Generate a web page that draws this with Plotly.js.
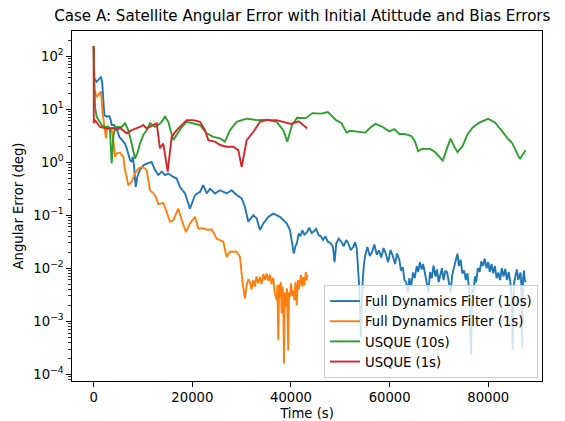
<!DOCTYPE html>
<html>
<head>
<meta charset="utf-8">
<script src="https://cdn.plot.ly/plotly-3.0.1.min.js"></script>
<style>html,body{margin:0;padding:0;background:#fff;}#chart{width:565px;height:421px;}</style>
</head>
<body>
<div id="chart"></div>
<script>
// Full Dynamics Filter (10s)
const fd10_t = [0,100,600,1140,1480,1740,2150,2640,3160,3450,3650,4120,4660,5190,5680,6350,6690,7010,7360,7700,7910,8170,8510,8840,9390,10060,10740,11760,12430,13100,13790,14460,15120,16140,16830,17500,18510,19520,20540,21550,22220,22910,23580,24590,25610,26960,27980,28990,30010,30670,31340,32360,33050,33720,34390,35400,36410,37770,39130,39800,40180,40570,40900,41200,41550,41900,42300,42700,43250,43700,44200,44690,45100,45600,46080,46500,47000,47460,48000,48500,48840,49190,49700,50220,50700,51200,51620,52100,52650,53000,53340,53600,53830,54170,54520,54800,55070,55500,56000,56460,56900,57400,57840,58300,58800,59220,59700,60200,60600,61100,61500,61990,62300,62680,63000,63370,63720,64000,64350,64750,65100,65500,65800,66130,66500,66800,67170,67500,67870,68200,68550,68910,69300,69600,69950,70290,70600,70950,71300,71670,72000,72360,72700,73050,73400,73760,74050,74400,74750,75140,75450,75800,76170,76520,76750,77000,77300,77550,77900,78250,78600,78950,79290,79650,80000,80300,80670,81000,81350,81700,82050,82400,82750,83100,83450,83800,84150,84480,84700,84970,85200,85520,85800,86100,86550,86700,86890,87050,87240,87400,87580];
const fd10_v = [150,38,32.7,38,40.7,30.5,7.7,7.2,7.4,6.2,5.0,5.0,4.3,3.0,2.6,2.24,1.82,1.35,1.10,1.01,1.26,0.87,0.34,0.525,0.71,0.87,0.94,1.01,0.71,0.57,0.66,0.57,0.61,0.525,0.49,0.34,0.257,0.133,0.24,0.275,0.367,0.257,0.316,0.257,0.295,0.257,0.295,0.24,0.207,0.143,0.075,0.1,0.087,0.0525,0.07,0.093,0.107,0.093,0.07,0.0525,0.0295,0.019,0.026,0.0295,0.045,0.040,0.052,0.043,0.048,0.058,0.046,0.0495,0.055,0.042,0.040,0.034,0.040,0.0316,0.030,0.0254,0.013,0.0295,0.036,0.0316,0.026,0.034,0.0295,0.022,0.0254,0.031,0.0234,0.012,0.0046,0.0005,0.0054,0.012,0.0176,0.025,0.017,0.0204,0.028,0.018,0.0219,0.016,0.024,0.0188,0.013,0.022,0.0176,0.012,0.019,0.0141,0.009,0.0105,0.006,0.0054,0.0035,0.0065,0.0045,0.0083,0.0065,0.011,0.0085,0.013,0.0095,0.012,0.0083,0.0055,0.0035,0.0085,0.0065,0.0112,0.0070,0.0095,0.0055,0.0072,0.0100,0.0060,0.0090,0.0083,0.0055,0.0035,0.0075,0.011,0.0140,0.0188,0.011,0.0145,0.0080,0.009,0.0060,0.0080,0.0035,0.00024,0.0040,0.0035,0.0070,0.0054,0.0100,0.0085,0.0135,0.0110,0.0151,0.0100,0.0130,0.0085,0.012,0.0080,0.0110,0.0065,0.0083,0.0060,0.0100,0.0070,0.0097,0.0060,0.0085,0.0054,0.0035,0.0003,0.0050,0.0072,0.0095,0.0060,0.0083,0.0050,0.00032,0.0060,0.009,0.0060,0.0054];

// Full Dynamics Filter (1s)
const fd1_t = [0,50,600,940,1480,1820,2090,2290,2490,2640,2960,3300,3650,3970,4320,4660,5330,6000,6350,6690,7010,7700,8370,9040,9730,10400,10740,11070,11410,12080,12430,13100,14110,14800,15470,16140,17150,17840,18710,19520,20540,21210,22220,23230,23920,24390,24940,26280,26960,27630,28990,29660,30210,30670,31020,31350,31690,32000,32350,32700,33000,33350,33720,34050,34400,34730,35050,35400,35740,36050,36410,36700,37100,37250,37430,37600,37770,37950,38110,38300,38450,38580,38750,38990,39200,39450,39600,39800,40000,40250,40470,40700,40900,41160,41400,41600,41830,42050,42300,42500,42750,43000,43180,43310];
const fd1_v = [150,24.5,17.0,18.4,21.4,8.3,5.4,4.6,2.8,4.0,4.6,4.3,4.0,2.6,1.26,1.46,1.51,1.26,0.71,0.525,0.367,0.427,0.61,0.76,0.81,0.76,0.71,0.457,0.295,0.257,0.24,0.162,0.17,0.115,0.075,0.08,0.133,0.08,0.048,0.07,0.093,0.056,0.056,0.0525,0.054,0.045,0.036,0.0316,0.0162,0.0204,0.0204,0.0162,0.0051,0.0027,0.0048,0.0062,0.0055,0.0040,0.0060,0.0045,0.0070,0.0052,0.0068,0.0050,0.0078,0.0060,0.0080,0.0058,0.0076,0.0050,0.0066,0.0035,0.0025,0.0048,0.00044,0.0050,0.0029,0.0055,0.0014,0.0045,0.0022,0.00016,0.0035,0.0019,0.0042,0.00028,0.0035,0.0029,0.0052,0.0030,0.0038,0.0025,0.0055,0.0020,0.0060,0.0040,0.0051,0.0075,0.0045,0.0068,0.0048,0.0085,0.0059,0.0075];

// USQUE (10s)
const uq10_t = [0,260,600,1140,1620,2290,2960,3300,3650,3970,4320,4990,5680,6350,7010,7700,8370,8840,9390,10060,10740,11410,12430,13100,13790,14460,15120,16140,16830,17840,18850,20200,21550,22910,24250,25610,26620,27630,28990,31020,33050,35070,37100,38440,39250,40180,41240,42960,44340,46080,47460,48500,49190,50220,51270,51960,53340,55070,56100,57150,58530,59910,60940,61990,63030,64410,65100,65790,66480,68220,69260,69950,70780,71670,72360,73070,73760,74790,75830,76860,78260,79980,81360,82740,83790,84830,85520,86410,87580];
const uq10_v = [150,11.1,7.2,5.75,5.0,4.6,4.7,4.0,0.94,3.0,4.6,4.6,4.6,5.4,4.0,2.24,1.17,1.46,2.24,3.24,4.0,5.4,4.6,5.0,5.75,7.2,5.75,2.6,3.24,4.6,5.75,5.4,5.0,3.5,3.0,2.8,2.43,4.0,5.75,6.6,6.2,6.3,5.75,4.0,2.43,4.9,6.85,6.75,8.4,8.2,8.8,7.1,6.1,5.5,3.6,3.9,3.8,3.6,4.5,5.25,4.65,3.8,4.2,3.4,3.4,3.1,2.5,1.6,1.78,1.78,1.53,1.29,1.07,1.86,2.77,2.0,1.55,2.0,3.4,4.5,5.6,6.55,5.6,3.9,2.9,2.3,1.72,1.15,1.68];

// USQUE (1s)
const uq1_t = [0,20,260,1280,2640,3970,4660,5330,6690,7700,9390,10060,10740,12080,12770,13440,14110,15000,15810,16830,17840,18850,20200,21550,22570,23230,24590,25610,26960,28300,29320,30010,31020,32360,33720,35070,37100,38440,40000,41580,43310];
const uq1_v = [155,5.45,6.2,4.6,4.3,4.4,4.0,4.4,3.5,4.0,4.6,5.0,4.3,5.0,5.4,1.82,2.24,0.66,3.0,4.0,5.0,6.2,6.2,5.75,4.0,2.6,2.43,2.1,1.95,1.95,1.68,0.81,2.6,3.7,5.75,6.2,6.2,5.75,5.25,5.9,4.3];

const seriesNames = ["Full Dynamics Filter (10s)","Full Dynamics Filter (1s)","USQUE (10s)","USQUE (1s)"];
const xTickVals = [0,20000,40000,60000,80000];
const xTickText = ["0","20000","40000","60000","80000"];
const yTickVals = [1e-4,1e-3,1e-2,1e-1,1,10,100];
const yTickText = ["10<sup>−4</sup>","10<sup>−3</sup>","10<sup>−2</sup>","10<sup>−1</sup>","10<sup>0</sup>","10<sup>1</sup>","10<sup>2</sup>"];

const colors = ["#1f77b4","#ff7f0e","#2ca02c","#d62728"];
const xs = [fd10_t, fd1_t, uq10_t, uq1_t];
const ys = [fd10_v, fd1_v, uq10_v, uq1_v];

const traces = xs.map((x,i)=>({
  type:"scatter", mode:"lines", x:x, y:ys[i], name:seriesNames[i],
  line:{color:colors[i], width:1.9}
}));

const minorVals = [];
for (let e=-5; e<=2; e++) for (let k=2; k<=9; k++) minorVals.push(k*Math.pow(10,e));

const F = "DejaVu Sans, sans-serif";
const layout = {
  width:565, height:421,
  margin:{l:72, r:23, t:31, b:40, pad:0},
  paper_bgcolor:"#fff", plot_bgcolor:"#fff",
  font:{family:F, size:13.2, color:"#000"},
  title:{text:"Case A: Satellite Angular Error with Initial Atittude and Bias Errors",
         font:{family:F, size:15.1, color:"#000"},
         xref:"paper", x:0.49, xanchor:"center", yref:"container", y:0.962, yanchor:"middle"},
  xaxis:{range:[-4400,90900], showgrid:false, zeroline:false,
         showline:true, mirror:true, linecolor:"#000", linewidth:1,
         ticks:"outside", ticklen:4.6, tickwidth:1, tickcolor:"#000",
         tickmode:"array", tickvals:xTickVals, ticktext:xTickText,
         tickfont:{family:F, size:13.2, color:"#000"},
         title:{text:"Time (s)", font:{family:F, size:13.2, color:"#000"}, standoff:4}},
  yaxis:{type:"log", range:[-4.126,2.472], showgrid:false, zeroline:false,
         showline:true, mirror:true, linecolor:"#000", linewidth:1,
         ticks:"outside", ticklen:4.6, tickwidth:1, tickcolor:"#000",
         tickmode:"array", tickvals:yTickVals, ticktext:yTickText,
         tickfont:{family:F, size:13.2, color:"#000"},
         minor:{ticks:"outside", ticklen:2.6, tickwidth:0.8, tickcolor:"#000", tickmode:"array", tickvals:minorVals, showgrid:false},
         title:{text:"Angular Error (deg)", font:{family:F, size:13.2, color:"#000"}, standoff:6}},
  showlegend:true,
  legend:{x:0.9915, xanchor:"right", y:0.0086, yanchor:"bottom",
          bgcolor:"rgba(255,255,255,0.8)", bordercolor:"#cccccc", borderwidth:1,
          font:{family:F, size:13.2, color:"#000"}, traceorder:"normal", tracegroupgap:0}
};

Plotly.newPlot("chart", traces, layout, {staticPlot:true, displayModeBar:false});
</script>
</body>
</html>
